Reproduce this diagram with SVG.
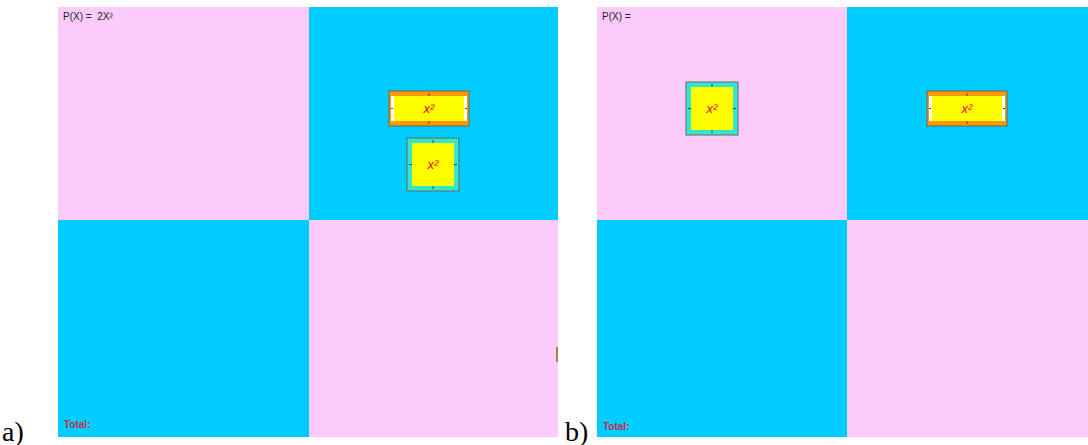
<svg xmlns="http://www.w3.org/2000/svg" width="1088" height="445" viewBox="0 0 1088 445">
<defs>
<style>
.pink{fill:#fccbfc}
.blue{fill:#00ccff}
.lbl{font-family:"Liberation Serif",serif;font-size:28px;fill:#000}
.px{font-family:"Liberation Sans",Arial,sans-serif;font-size:10px;fill:#222}
.tot{font-family:"Liberation Sans",Arial,sans-serif;font-size:10px;font-weight:bold;fill:#c0304a}
.x2{font-family:"Liberation Sans",Arial,sans-serif;font-size:13px;font-style:italic;fill:#e8001c}
.tick{stroke:#444;stroke-width:1}
</style>
<g id="rectTile">
<rect x="0" y="0" width="80" height="35" fill="#ff9900" stroke="#666" stroke-width="1"/>
<rect x="2" y="5" width="76" height="25" fill="#ffffff"/>
<rect x="5" y="5" width="70" height="25" fill="#ffff00"/>
<line class="tick" x1="40" y1="2" x2="40" y2="5"/>
<line class="tick" x1="40" y1="30" x2="40" y2="33"/>
<line class="tick" x1="2" y1="17.5" x2="4" y2="17.5"/>
<line class="tick" x1="76" y1="17.5" x2="78" y2="17.5"/>
<text class="x2" x="40" y="22" text-anchor="middle">x²</text>
</g>
<g id="sqTile">
<rect x="0" y="0" width="52" height="53" fill="#33e6cc" stroke="#666" stroke-width="1"/>
<rect x="5" y="5" width="42" height="43" fill="#ffff00"/>
<line class="tick" x1="26" y1="2" x2="26" y2="5"/>
<line class="tick" x1="26" y1="48" x2="26" y2="51"/>
<line class="tick" x1="2" y1="26.5" x2="5" y2="26.5"/>
<line class="tick" x1="47" y1="26.5" x2="50" y2="26.5"/>
<text class="x2" x="26" y="31" text-anchor="middle">x²</text>
</g>
</defs>
<rect width="1088" height="445" fill="#ffffff"/>
<g id="panelA">
<rect class="pink" x="58" y="7" width="251" height="213"/>
<rect class="blue" x="309" y="7" width="249" height="213"/>
<rect class="blue" x="58" y="220" width="251" height="217"/>
<rect class="pink" x="309" y="220" width="249" height="217"/>
<rect x="556" y="347" width="2" height="15" fill="#b08040"/>
<text class="px" x="63" y="20">P(X) =&#160; 2X²</text>
<text class="tot" x="64" y="428">Total:</text>
</g>
<g id="tileA1"><use href="#rectTile" x="389" y="91"/></g>
<g id="tileA2"><use href="#sqTile" x="407" y="138"/></g>
<g id="panelB">
<rect class="pink" x="597" y="7" width="250" height="213"/>
<rect class="blue" x="847" y="7" width="241" height="213"/>
<rect class="blue" x="597" y="220" width="250" height="217"/>
<rect class="pink" x="847" y="220" width="241" height="217"/>
<text class="px" x="602" y="20">P(X) =</text>
<text class="tot" x="603" y="430">Total:</text>
</g>
<g id="tileB1"><use href="#sqTile" x="686" y="82"/></g>
<g id="tileB2"><use href="#rectTile" x="927" y="91"/></g>
<g id="connectors"></g>
<text class="lbl" x="2" y="441">a)</text>
<text class="lbl" x="565" y="441">b)</text>
</svg>
